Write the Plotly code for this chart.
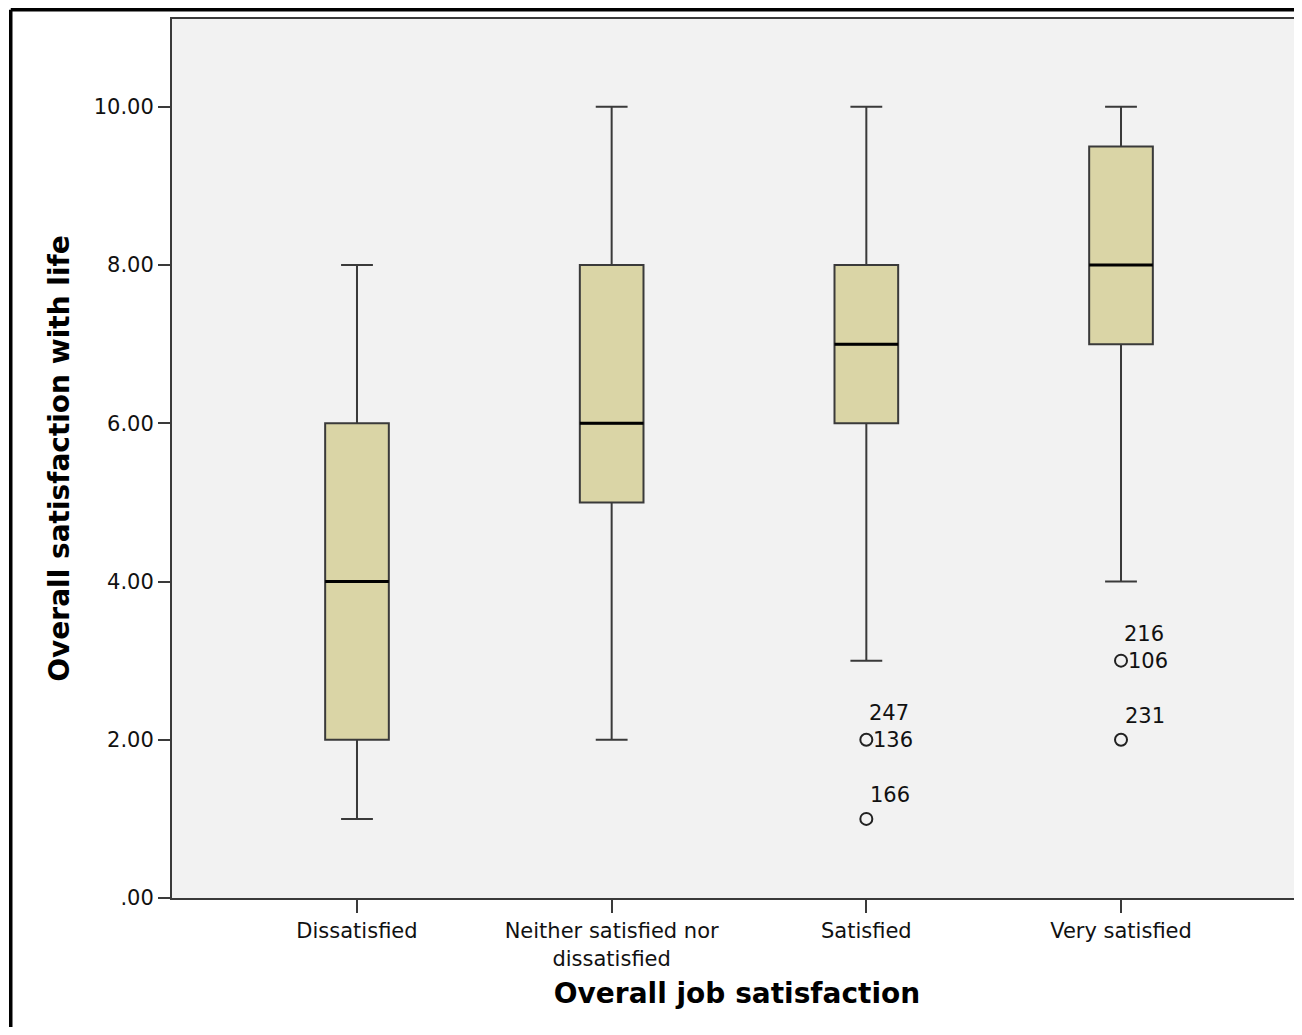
import plotly.graph_objects as go

# ---- data ----
categories = ["Dissatisfied", "Neither satisfied nor<br>dissatisfied", "Satisfied", "Very satisfied"]
lower_whisker = [1, 2, 3, 4]
q1 = [2, 5, 6, 7]
median = [4, 6, 7, 8]
q3 = [6, 8, 8, 9.5]
upper_whisker = [8, 10, 10, 10]

outlier_cat = [2, 2, 3, 3]
outlier_val = [2, 1, 3, 2]
outlier_ids = [["136", "247"], ["166"], ["106", "216"], ["231"]]

y_tickvals = [0, 2, 4, 6, 8, 10]
y_ticktext = [".00", "2.00", "4.00", "6.00", "8.00", "10.00"]

positions = list(range(len(categories)))
box_w = 0.25

FONT = "DejaVu Sans"
AX = "#3a3a3a"
TXT = "#111111"

fig = go.Figure()

fig.add_trace(go.Box(
    x=positions,
    q1=q1, median=median, q3=q3,
    lowerfence=lower_whisker, upperfence=upper_whisker,
    width=box_w, whiskerwidth=0.5,
    fillcolor="#dad5a6",
    line=dict(color=AX, width=2),
    boxpoints=False,
    showlegend=False, hoverinfo="skip",
))

# thicker black median lines
mx, my = [], []
for p, m in zip(positions, median):
    mx += [p - box_w / 2, p + box_w / 2, None]
    my += [m, m, None]
fig.add_trace(go.Scatter(x=mx, y=my, mode="lines",
                         line=dict(color="#000000", width=3),
                         showlegend=False, hoverinfo="skip"))

# outliers
fig.add_trace(go.Scatter(
    x=outlier_cat, y=outlier_val, mode="markers",
    marker=dict(symbol="circle-open", size=12, color="#222222", line=dict(width=2)),
    showlegend=False, hoverinfo="skip"))

lab_font = dict(family=FONT, size=21, color=TXT)
annotations = []
for cx, cy, ids in zip(outlier_cat, outlier_val, outlier_ids):
    if len(ids) == 1:
        annotations.append(dict(x=cx, y=cy, text=ids[0], xanchor="left", yanchor="middle",
                                xshift=2, yshift=24, showarrow=False, font=lab_font))
    else:
        annotations.append(dict(x=cx, y=cy, text=ids[0], xanchor="left", yanchor="middle",
                                xshift=5, yshift=0, showarrow=False, font=lab_font))
        for k, t in enumerate(ids[1:]):
            annotations.append(dict(x=cx, y=cy, text=t, xanchor="left", yanchor="middle",
                                    xshift=1, yshift=27 * (k + 1), showarrow=False,
                                    font=lab_font))

# outer black frame (left and top, cropped image)
shapes = [
    dict(type="line", xref="paper", yref="paper", x0=-0.1427, x1=-0.1427, y0=1.0105, y1=-0.2,
         line=dict(color="#000000", width=3.5)),
    dict(type="line", xref="paper", yref="paper", x0=-0.1427, x1=1.05, y0=1.0105, y1=1.0105,
         line=dict(color="#000000", width=3.5)),
]

fig.update_layout(
    width=1294, height=1019,
    margin=dict(l=164, r=0, t=11, b=129),
    paper_bgcolor="#ffffff", plot_bgcolor="#f2f2f2",
    font=dict(family=FONT, color=TXT),
    annotations=annotations, shapes=shapes,
    xaxis=dict(
        range=[-0.7264, 3.7107], tickvals=positions, ticktext=categories,
        showgrid=False, zeroline=False,
        showline=True, linecolor=AX, linewidth=2, mirror=True,
        ticks="outside", ticklen=13, tickwidth=2, tickcolor=AX,
        tickfont=dict(family=FONT, size=21, color=TXT),
        title=dict(text="<b>Overall job satisfaction</b>", standoff=14,
                   font=dict(family=FONT, size=28, color="#000000")),
    ),
    yaxis=dict(
        range=[0, 11.11], tickvals=y_tickvals, ticktext=y_ticktext,
        showgrid=False, zeroline=False,
        showline=True, linecolor=AX, linewidth=2,
        ticks="outside", ticklen=12, tickwidth=2, tickcolor=AX,
        tickfont=dict(family=FONT, size=21, color=TXT),
        title=dict(text="<b>Overall satisfaction with life</b>", standoff=16,
                   font=dict(family=FONT, size=28, color="#000000")),
    ),
)

fig.write_html("out.html")
